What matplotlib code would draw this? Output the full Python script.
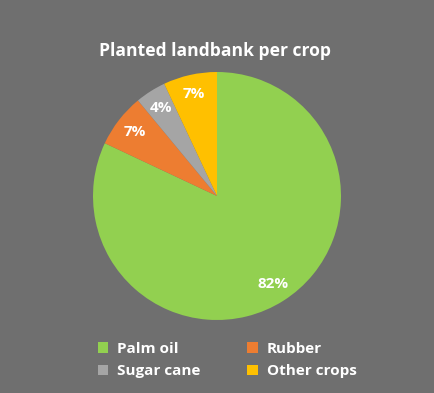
import matplotlib.pyplot as plt
from matplotlib.patches import Patch

crops = ['Palm oil', 'Rubber', 'Sugar cane', 'Other crops']
shares = [82, 7, 4, 7]
colors = ['#92d050', '#ed7d31', '#a5a5a5', '#ffc000']
bg = '#6f6f6f'

plt.rcParams['font.family'] = ['Open Sans', 'DejaVu Sans']

fig = plt.figure(figsize=(4.34, 3.93), dpi=100, facecolor=bg)

# pie centre ~ (217,196) px, radius ~124 px
ax = fig.add_axes([(217 - 124) / 434, (393 - 320) / 393, 248 / 434, 248 / 393])
ax.set_facecolor(bg)
wedges, texts, autotexts = ax.pie(shares, colors=colors, startangle=90, counterclock=False,
                                  autopct='%d%%', pctdistance=0.84,
                                  wedgeprops=dict(linewidth=0),
                                  textprops=dict(color='white', fontsize=11, fontweight='bold'))
ax.set_xlim(-1, 1)
ax.set_ylim(-1, 1)
ax.set_aspect('equal')

fig.text(0.495, 1 - 51 / 393, 'Planted landbank per crop', ha='center', va='center',
         color='white', fontsize=12.6, fontweight='bold')

# legend is filled row by row in the reference, matplotlib fills columns
order = [0, 2, 1, 3]
handles = [Patch(facecolor=colors[i], edgecolor='none') for i in order]
labels = [crops[i] for i in order]
fig.legend(handles, labels, ncol=2, loc='center', bbox_to_anchor=(0.523, 1 - 360 / 393),
           frameon=False, labelcolor='white', handlelength=0.7, handleheight=0.7,
           handletextpad=0.55, columnspacing=3.1, labelspacing=0.55,
           prop=dict(size=11, weight='bold'))

fig.savefig('out.png', dpi=100, facecolor=bg)
